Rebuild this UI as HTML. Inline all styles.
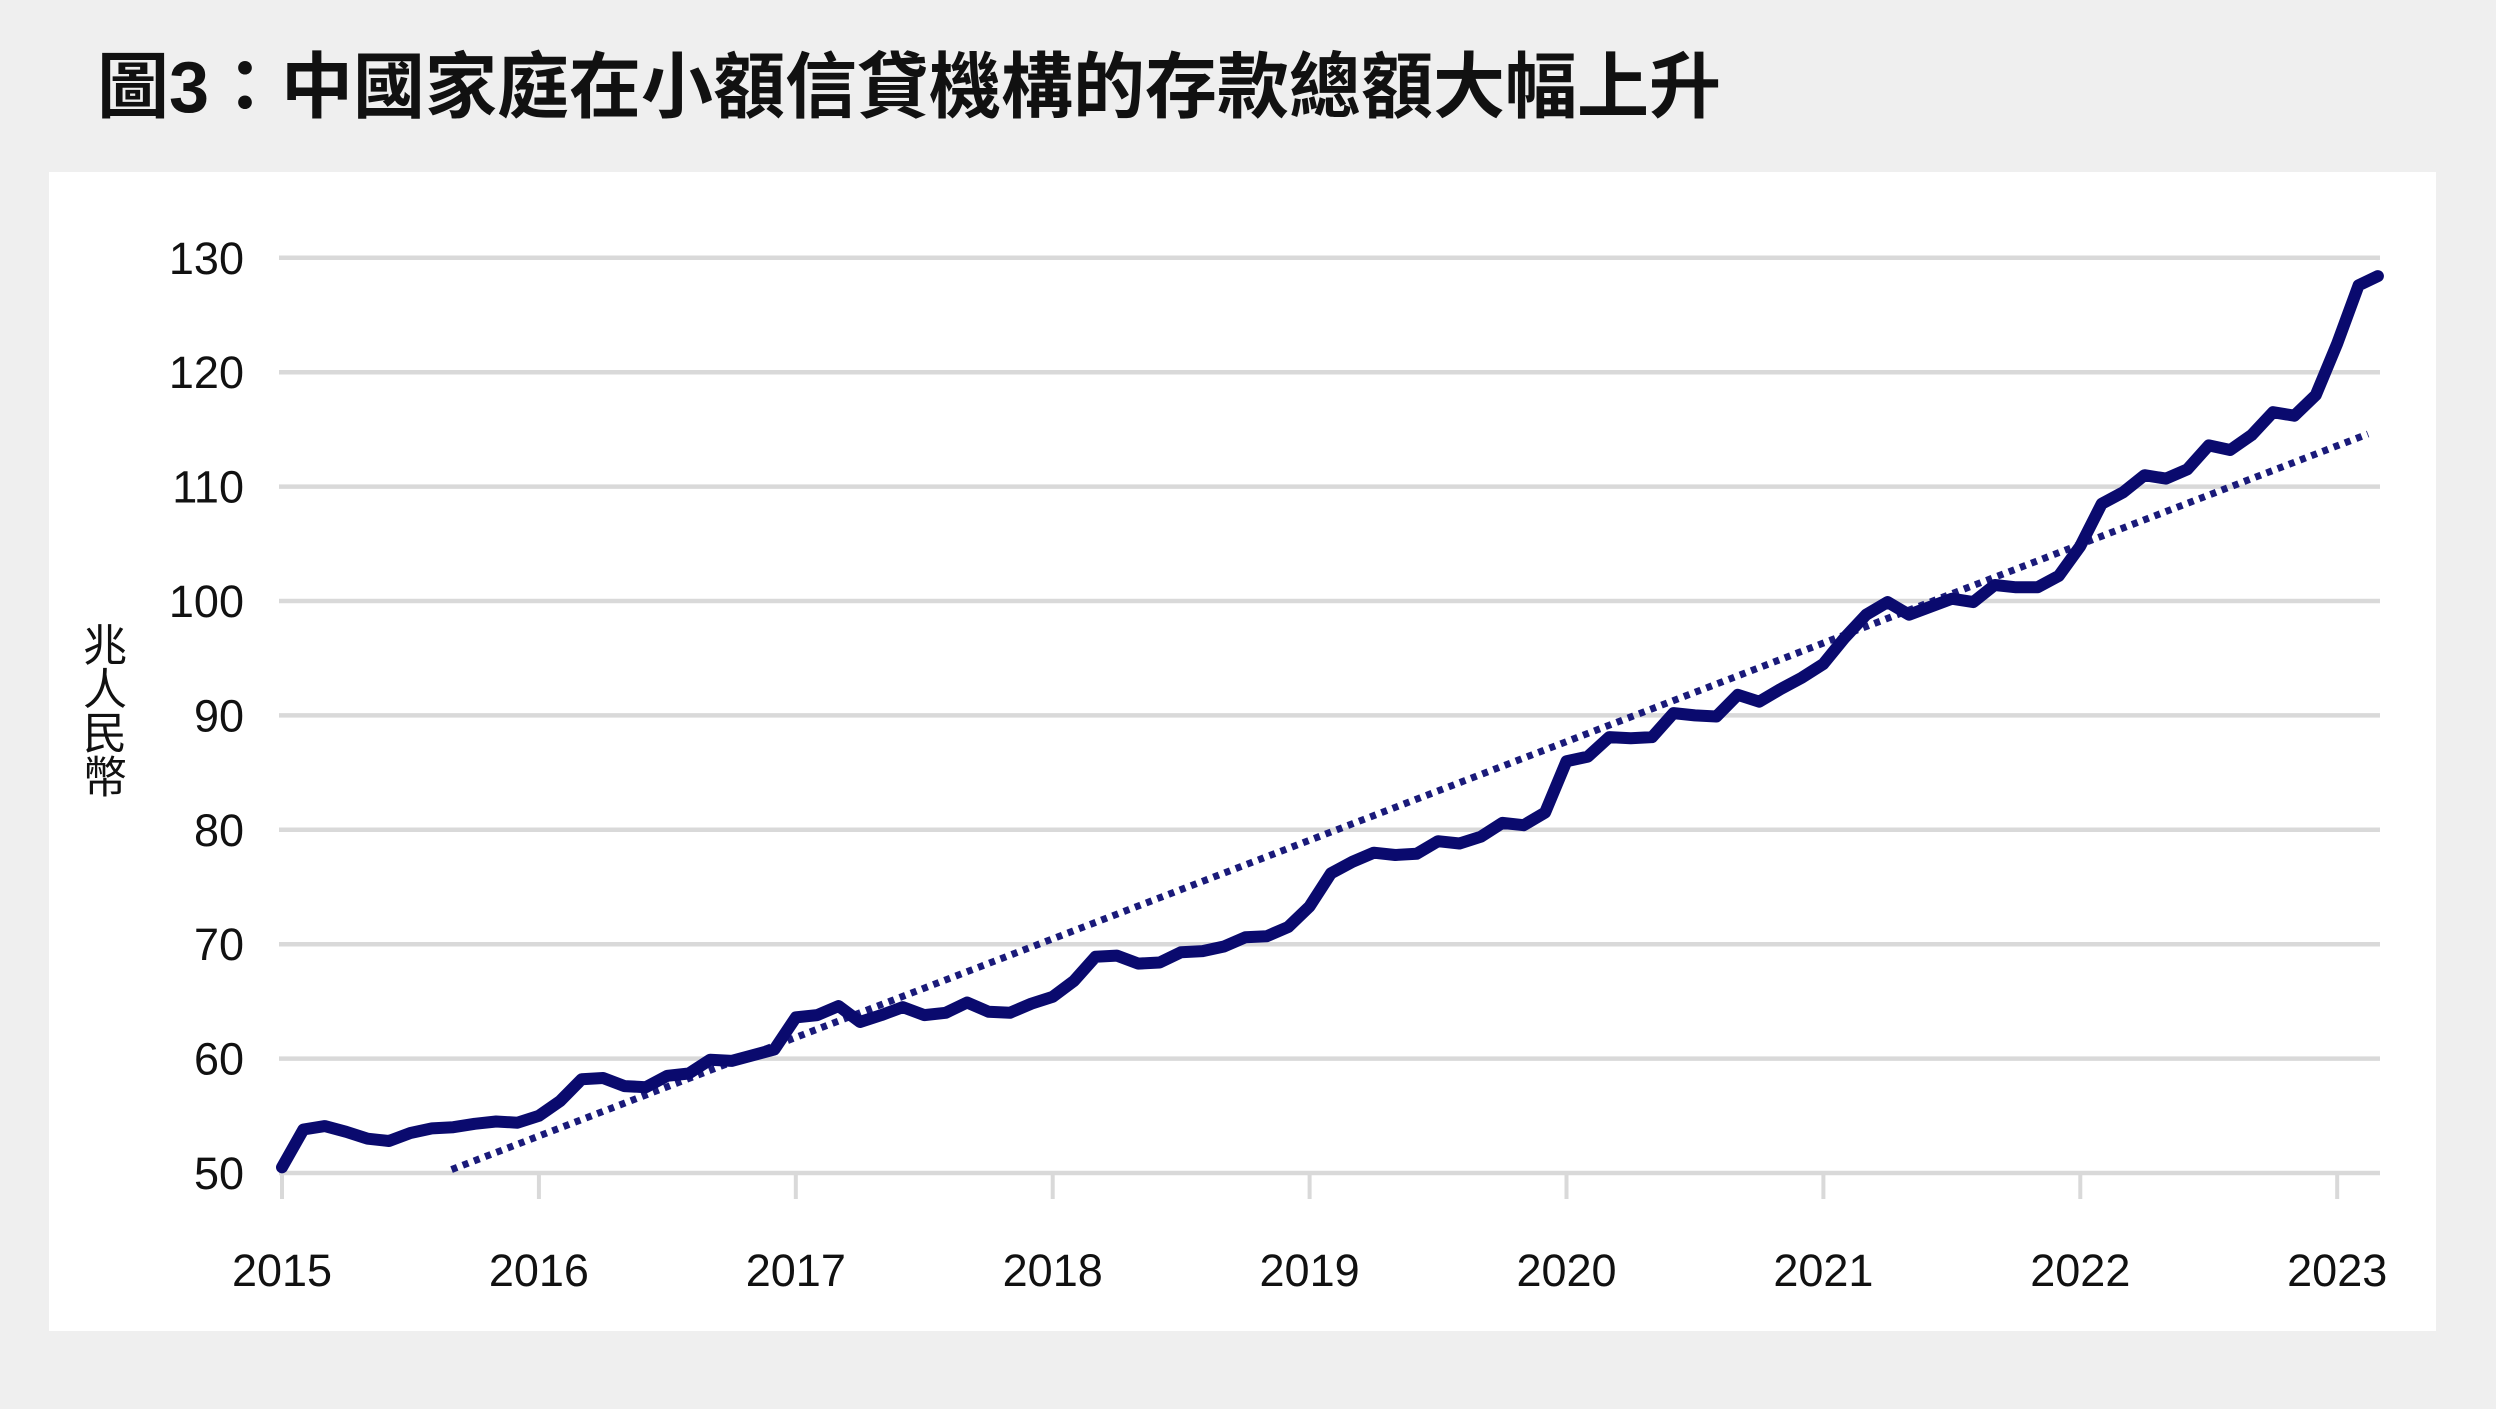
<!DOCTYPE html>
<html><head><meta charset="utf-8">
<style>
html,body{margin:0;padding:0;background:#efefef;}
body{width:2496px;height:1404px;overflow:hidden;}
svg text{font-family:"Liberation Sans","Noto Sans CJK TC",sans-serif;}
</style></head>
<body>
<svg id="chart" width="2496" height="1404" viewBox="0 0 2496 1404" xmlns="http://www.w3.org/2000/svg">
  <rect x="0" y="0" width="2496" height="1404" fill="#efefef"/>
  <text x="97" y="112" font-size="72" font-weight="bold" fill="#111" style='font-family:"Liberation Sans","Noto Sans CJK TC",sans-serif'>圖3：中國家庭在小額信貸機構的存款總額大幅上升</text>
  <rect x="49" y="172" width="2387" height="1159" fill="#ffffff"/>
  <g id="grid"></g>
  <g id="yticks"></g>
  <g id="xticks"></g>
  <text x="105" y="622" font-size="44" fill="#111" style='writing-mode:vertical-rl;font-family:"Noto Sans CJK TC",sans-serif'>兆人民幣</text>
  <g id="series"></g>
</svg>
<script>
const yTicks = [50, 60, 70, 80, 90, 100, 110, 120, 130];
const xYears = [2015, 2016, 2017, 2018, 2019, 2020, 2021, 2022, 2023];
const startYear = 2015;
const deposits = [
 50.5,53.8,54.1,53.6,53.0,52.8,53.5,53.9,54.0,54.3,54.5,54.4,
 55.0,56.3,58.2,58.3,57.6,57.5,58.5,58.7,59.9,59.8,60.3,60.8,
 63.6,63.8,64.6,63.2,63.8,64.5,63.8,64.0,64.9,64.1,64.0,64.8,
 65.4,66.8,68.9,69.0,68.3,68.4,69.3,69.4,69.8,70.6,70.7,71.5,
 73.3,76.2,77.2,78.0,77.8,77.9,79.0,78.8,79.4,80.6,80.4,81.5,
 86.0,86.4,88.1,88.0,88.1,90.2,90.0,89.9,91.8,91.2,92.3,93.3,
 94.5,96.8,98.8,99.9,98.8,99.5,100.2,99.9,101.4,101.2,101.2,102.2,
 104.8,108.5,109.5,111.0,110.7,111.5,113.6,113.2,114.5,116.5,116.2,118.0,
 122.5,127.6,128.4
];
const monthStep = [0.9];
const trendYears = [2015.66, 2023.12];
const trendValues = [50.3, 114.6];

const X = yr => 282 + (yr - 2015) * 256.9;
const Y = v => 1173 - (v - 50) * 11.44;
const NS = "http://www.w3.org/2000/svg";
function mk(tag, attrs, parent){const e=document.createElementNS(NS,tag);for(const k in attrs)e.setAttribute(k,attrs[k]);parent.appendChild(e);return e;}

const grid=document.getElementById('grid'), yt=document.getElementById('yticks'), xt=document.getElementById('xticks'), ser=document.getElementById('series');
yTicks.forEach(v=>{
  const l=mk('line',{x1:279,x2:2380,y1:Y(v),y2:Y(v),stroke:'#d9d9d9','stroke-width':4.5},grid);
  
  
  const t=mk('text',{x:244,y:Y(v)+16,'text-anchor':'end','font-size':45,fill:'#111'},yt);
  t.textContent=v;
  
  
});
xYears.forEach(yr=>{
  const l=mk('line',{x1:X(yr),x2:X(yr),y1:Y(50),y2:Y(50)+26,stroke:'#d9d9d9','stroke-width':4},xt);
  
  
  const t=mk('text',{x:X(yr),y:1286,'text-anchor':'middle','font-size':45,fill:'#111'},xt);
  t.textContent=yr;
  
  
});
const tr=mk('line',{x1:X(trendYears[0]),y1:Y(trendValues[0]),x2:X(trendYears[1]),y2:Y(trendValues[1]),stroke:'#1a1a7a','stroke-width':7,'stroke-dasharray':'6 6'},ser);


const n=deposits.length;
const pts=deposits.map((v,i)=>{
  const t = i < n-1 ? i/12 : (n-2)/12 + monthStep[0]/12;
  return X(startYear+t).toFixed(1)+','+Y(v).toFixed(1);
}).join(' ');
const pl=mk('polyline',{points:pts,fill:'none',stroke:'#0a0a6e','stroke-width':12,'stroke-linejoin':'round','stroke-linecap':'round'},ser);


</script>
</body></html>
